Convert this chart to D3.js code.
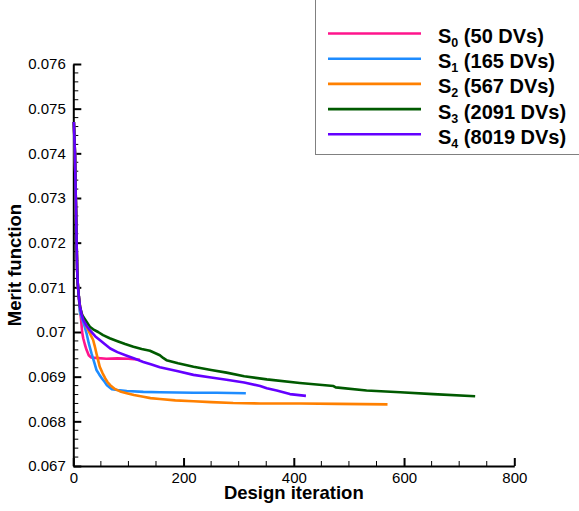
<!DOCTYPE html>
<html>
<head>
<meta charset="utf-8">
<script src="https://cdn.jsdelivr.net/npm/d3@7"></script>
<style>
  body { margin: 0; background: #fff; }
  svg { display: block; font-family: Arial, "Liberation Sans", sans-serif; }
</style>
</head>
<body>
<svg id="chart" width="579" height="511"></svg>
<script>
// Convergence history of the merit function for each design space
const seriesNames = ["S0", "S1", "S2", "S3", "S4"];
const seriesSubs = ["0", "1", "2", "3", "4"];
const seriesLabels = [" (50 DVs)", " (165 DVs)", " (567 DVs)", " (2091 DVs)", " (8019 DVs)"];
const seriesColors = ["#ff148c", "#1e8cff", "#ff8000", "#005a00", "#6400ff"];

const s0Iter = [1, 3, 4, 5, 6, 7, 8, 10, 12, 14, 16, 18, 21, 24, 28, 32, 40, 60, 80, 100, 121];
const s0Vals = [0.0747, 0.0740, 0.0733, 0.0727, 0.0720, 0.0714, 0.0711, 0.07078, 0.0705, 0.0703, 0.0700, 0.06986, 0.06972, 0.0696, 0.06948, 0.06943, 0.06942, 0.0694, 0.06941, 0.0694, 0.06938];

const s1Iter = [1, 3, 4, 5, 6, 7, 8, 10, 12, 16, 20, 24, 28, 33, 38, 42, 47, 52, 57, 61, 66, 70, 80, 97, 127, 157, 218, 260, 313];
const s1Vals = [0.0747, 0.0740, 0.0733, 0.0727, 0.0720, 0.0714, 0.0711, 0.0708, 0.07045, 0.0703, 0.07015, 0.06997, 0.06975, 0.06952, 0.06932, 0.06915, 0.06905, 0.06896, 0.06888, 0.06881, 0.06876, 0.06872, 0.0687, 0.06868, 0.06866, 0.06865, 0.06864, 0.06864, 0.06863];

const s2Iter = [1, 3, 4, 5, 6, 7, 8, 10, 13, 15, 20, 24, 30, 36, 39, 42, 45, 48, 53, 58, 62, 67, 72, 76, 85, 97, 110, 127, 140, 157, 185, 218, 250, 290, 339, 411, 480, 570];
const s2Vals = [0.0747, 0.0740, 0.0733, 0.0727, 0.0720, 0.0714, 0.0711, 0.0708, 0.0705, 0.07042, 0.07025, 0.07012, 0.06997, 0.06982, 0.06968, 0.06952, 0.06937, 0.06922, 0.06908, 0.06896, 0.06888, 0.06881, 0.06876, 0.06872, 0.06867, 0.06863, 0.06859, 0.06855, 0.06852, 0.0685, 0.06847, 0.06845, 0.06843, 0.06841, 0.0684, 0.0684, 0.06839, 0.06838];

const s3Iter = [1, 3, 4, 5, 6, 7, 8, 10, 12, 16, 24, 30, 36, 45, 54, 66, 79, 94, 109, 124, 139, 150, 157, 163, 169, 190, 218, 250, 278, 310, 351, 411, 472, 476, 532, 593, 653, 729];
const s3Vals = [0.0747, 0.0740, 0.0733, 0.0727, 0.0720, 0.0714, 0.0711, 0.0708, 0.07058, 0.07038, 0.07023, 0.07012, 0.07006, 0.0700, 0.06993, 0.06986, 0.0698, 0.06973, 0.06967, 0.06962, 0.06958, 0.06952, 0.06948, 0.06942, 0.06937, 0.0693, 0.06922, 0.06915, 0.06909, 0.06901, 0.06894, 0.06886, 0.06879, 0.06876, 0.06869, 0.06865, 0.06861, 0.06856];

const s4Iter = [1, 3, 4, 5, 6, 7, 8, 10, 12, 15, 18, 24, 30, 40, 48, 58, 67, 80, 97, 112, 127, 142, 157, 190, 218, 250, 278, 310, 339, 351, 369, 393, 422];
const s4Vals = [0.0747, 0.0740, 0.0733, 0.0727, 0.0720, 0.0714, 0.0711, 0.0708, 0.07058, 0.0704, 0.07027, 0.07014, 0.07004, 0.0699, 0.06982, 0.06972, 0.06963, 0.06955, 0.06947, 0.0694, 0.06933, 0.06927, 0.06921, 0.06912, 0.06904, 0.06898, 0.06893, 0.06887, 0.06879, 0.06874, 0.06869, 0.06861, 0.06857];

const xTicks = [0, 200, 400, 600, 800];
const yTicks = [0.067, 0.068, 0.069, 0.07, 0.071, 0.072, 0.073, 0.074, 0.075, 0.076];
const yTickLabels = ["0.067", "0.068", "0.069", "0.07", "0.071", "0.072", "0.073", "0.074", "0.075", "0.076"];

const iters = [s0Iter, s1Iter, s2Iter, s3Iter, s4Iter];
const vals = [s0Vals, s1Vals, s2Vals, s3Vals, s4Vals];
const series = seriesNames.map((name, k) => ({
  name, sub: seriesSubs[k], label: seriesLabels[k], color: seriesColors[k],
  points: iters[k].map((it, j) => ({ x: it, y: vals[k][j] }))
}));

const svg = d3.select("#chart");
const plotLeft = 73.3, plotRight = 514.3, plotTop = 64, plotBottom = 466;

const x = d3.scaleLinear().domain([0, 800]).range([plotLeft, plotRight]);
const y = d3.scaleLinear().domain([0.067, 0.076]).range([plotBottom, plotTop]);

// Minor ticks (inward)
const xMinor = d3.range(0, 801, 50).filter(v => v % 200 !== 0);
const yMinor = d3.range(0, 46).map(i => 0.067 + i * 0.0002).filter((v, i) => i % 5 !== 0);

const minor = svg.append("g");
minor.selectAll(".xm").data(xMinor).join("line")
  .attr("x1", d => x(d)).attr("x2", d => x(d))
  .attr("y1", plotBottom).attr("y2", plotBottom - 5)
  .attr("stroke", "#000").attr("stroke-width", 1);
minor.selectAll(".ym").data(yMinor).join("line")
  .attr("x1", plotLeft).attr("x2", plotLeft + 5)
  .attr("y1", d => y(d)).attr("y2", d => y(d))
  .attr("stroke", "#000").attr("stroke-width", 1);

// Major axes with inward ticks
const xAxis = d3.axisBottom(x).tickValues(xTicks).tickSizeInner(-8).tickSizeOuter(0).tickPadding(6).tickFormat(d3.format("d"));
const yAxis = d3.axisLeft(y).tickValues(yTicks).tickSizeInner(-8).tickSizeOuter(0).tickPadding(7.5)
  .tickFormat((d, i) => yTickLabels[i]);

const gx = svg.append("g").attr("transform", `translate(0,${plotBottom})`).call(xAxis);
const gy = svg.append("g").attr("transform", `translate(${plotLeft},0)`).call(yAxis);
[gx, gy].forEach(g => {
  g.attr("font-size", 15).attr("font-family", "Arial, 'Liberation Sans', sans-serif");
  g.select(".domain").attr("stroke", "#000").attr("stroke-width", 2);
  g.selectAll(".tick line").attr("stroke", "#000").attr("stroke-width", 2);
  g.selectAll(".tick text").attr("fill", "#000");
});

// Curves
const line = d3.line().x(d => x(d.x)).y(d => y(d.y));
svg.append("g").selectAll("path").data(series).join("path")
  .attr("d", d => line(d.points))
  .attr("fill", "none")
  .attr("stroke", d => d.color)
  .attr("stroke-width", 2.6)
  .attr("stroke-linejoin", "round");

// Axis titles
svg.append("text").attr("x", (plotLeft + plotRight) / 2).attr("y", 499)
  .attr("text-anchor", "middle").attr("font-size", 18.5).attr("font-weight", "bold")
  .text("Design iteration");
svg.append("text").attr("transform", "translate(20.6,265) rotate(-90)")
  .attr("text-anchor", "middle").attr("font-size", 18.5).attr("font-weight", "bold")
  .text("Merit function");

// Legend
const legend = svg.append("g");
legend.append("rect").attr("x", 315.5).attr("y", -1).attr("width", 270).attr("height", 155.5)
  .attr("fill", "#fff").attr("stroke", "#808080").attr("stroke-width", 1);
const rows = legend.selectAll(".row").data(series).join("g")
  .attr("transform", (d, i) => `translate(0,${33.5 + i * 25.2})`);
rows.append("line").attr("x1", 328).attr("x2", 421).attr("y1", 0).attr("y2", 0)
  .attr("stroke", d => d.color).attr("stroke-width", 2.6);
const t = rows.append("text").attr("x", 438).attr("y", 9.5)
  .attr("font-size", 20).attr("font-weight", "bold").attr("fill", "#000");
t.append("tspan").text("S");
t.append("tspan").attr("font-size", 12.5).attr("dy", 4).text(d => d.sub);
t.append("tspan").attr("dy", -4).text(d => d.label);
</script>
</body>
</html>
